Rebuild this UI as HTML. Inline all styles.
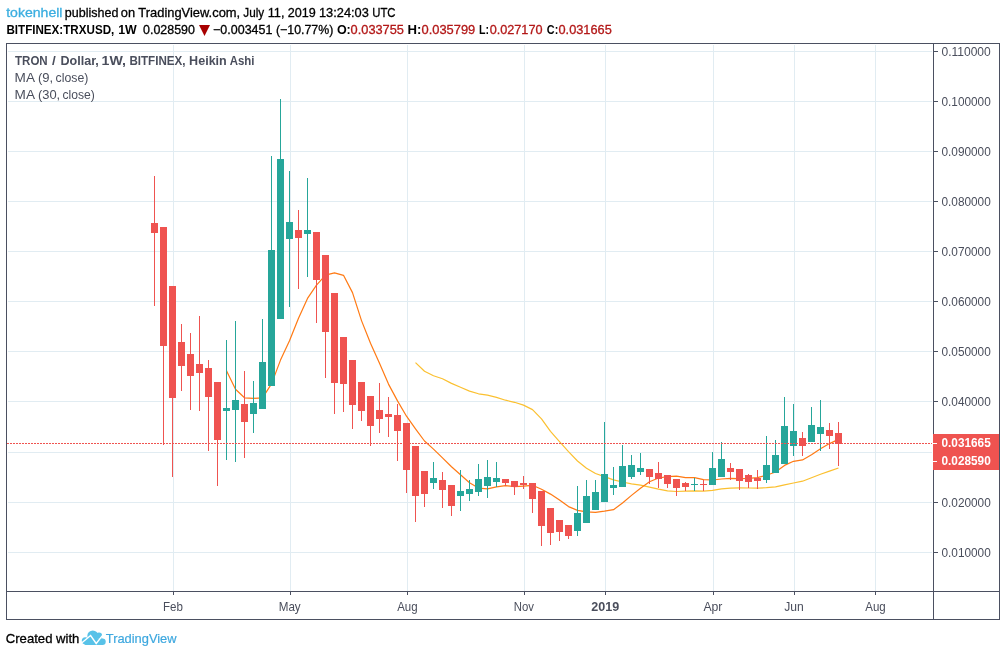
<!DOCTYPE html>
<html lang="en"><head><meta charset="utf-8"><title>TRXUSD chart</title>
<style>html,body{margin:0;padding:0;background:#fff}svg{display:block}text{font-family:"Liberation Sans",sans-serif}</style></head><body>
<svg width="1006" height="656" viewBox="0 0 1006 656">
<rect width="1006" height="656" fill="#fff"/>
<g shape-rendering="crispEdges" fill="#e1ecf2">
<rect x="8" y="51" width="924" height="1"/>
<rect x="8" y="101" width="924" height="1"/>
<rect x="8" y="151" width="924" height="1"/>
<rect x="8" y="201" width="924" height="1"/>
<rect x="8" y="251" width="924" height="1"/>
<rect x="8" y="301" width="924" height="1"/>
<rect x="8" y="351" width="924" height="1"/>
<rect x="8" y="401" width="924" height="1"/>
<rect x="8" y="452" width="924" height="1"/>
<rect x="8" y="502" width="924" height="1"/>
<rect x="8" y="552" width="924" height="1"/>
<rect x="173" y="45" width="1" height="546"/>
<rect x="290" y="45" width="1" height="546"/>
<rect x="407" y="45" width="1" height="546"/>
<rect x="524" y="45" width="1" height="546"/>
<rect x="605" y="45" width="1" height="546"/>
<rect x="713" y="45" width="1" height="546"/>
<rect x="794" y="45" width="1" height="546"/>
<rect x="875" y="45" width="1" height="546"/>
</g>
<polyline points="415.5,362.6 424.5,371.3 433.5,375.7 442.5,378.7 451.5,383.4 460.5,387.2 469.5,391.1 478.5,393.8 487.5,395.1 496.5,397.4 505.5,400.2 514.5,402.3 523.5,405.1 532.5,409.6 541.5,418.8 550.5,431.3 559.5,441.6 568.5,451.6 577.5,461.0 586.5,468.2 595.5,473.5 604.5,476.6 613.5,479.9 622.5,482.0 631.5,483.8 640.5,485.2 649.5,487.1 658.5,489.2 667.5,490.9 676.5,491.5 685.5,491.2 694.5,490.9 703.5,491.1 712.5,490.4 721.5,488.8 730.5,488.2 739.5,487.9 748.5,488.0 757.5,488.2 766.5,487.7 775.5,486.8 784.5,484.8 793.5,483.0 802.5,481.2 811.5,477.8 820.5,474.3 829.5,471.1 838.5,468.0" fill="none" stroke="#fbc030" stroke-width="1.2" stroke-linejoin="round"/>
<polyline points="226.5,370.8 235.5,389.3 244.5,397.8 253.5,398.3 262.5,397.9 271.5,383.9 280.5,360.1 289.5,340.7 298.5,318.2 307.5,298.4 316.5,285.1 325.5,275.1 334.5,272.9 343.5,275.3 352.5,292.6 361.5,320.6 370.5,343.2 379.5,363.3 388.5,384.1 397.5,400.9 406.5,416.2 415.5,428.8 424.5,441.0 433.5,449.1 442.5,457.9 451.5,466.8 460.5,474.8 469.5,482.8 478.5,488.1 487.5,488.9 496.5,486.9 505.5,485.7 514.5,486.7 523.5,486.1 532.5,485.3 541.5,489.2 550.5,494.1 559.5,500.0 568.5,506.6 577.5,510.4 586.5,511.9 595.5,512.4 604.5,511.2 613.5,509.7 622.5,503.0 631.5,495.4 640.5,488.3 649.5,481.8 658.5,478.0 667.5,476.7 676.5,476.2 685.5,477.7 694.5,477.6 703.5,479.7 712.5,480.0 721.5,479.0 730.5,478.4 739.5,478.7 748.5,478.4 757.5,477.7 766.5,475.2 775.5,472.0 784.5,465.4 793.5,461.3 802.5,459.9 811.5,454.7 820.5,448.7 829.5,443.6 838.5,439.4" fill="none" stroke="#ff7a14" stroke-width="1.2" stroke-linejoin="round"/>
<g shape-rendering="crispEdges">
<rect x="154" y="176" width="1" height="130" fill="#ef5350"/><rect x="151" y="223" width="7" height="10" fill="#ef5350"/>
<rect x="163" y="227" width="1" height="218" fill="#ef5350"/><rect x="160" y="227" width="7" height="119" fill="#ef5350"/>
<rect x="172" y="286" width="1" height="191" fill="#ef5350"/><rect x="169" y="286" width="7" height="112" fill="#ef5350"/>
<rect x="181" y="324" width="1" height="67" fill="#ef5350"/><rect x="178" y="342" width="7" height="24" fill="#ef5350"/>
<rect x="190" y="333" width="1" height="77" fill="#ef5350"/><rect x="187" y="354" width="7" height="22" fill="#ef5350"/>
<rect x="199" y="316" width="1" height="95" fill="#ef5350"/><rect x="196" y="364" width="7" height="9" fill="#ef5350"/>
<rect x="208" y="360" width="1" height="91" fill="#ef5350"/><rect x="205" y="368" width="7" height="29" fill="#ef5350"/>
<rect x="217" y="382" width="1" height="104" fill="#ef5350"/><rect x="214" y="382" width="7" height="58" fill="#ef5350"/>
<rect x="226" y="340" width="1" height="120" fill="#26a69a"/><rect x="223" y="408" width="7" height="3" fill="#26a69a"/>
<rect x="235" y="321" width="1" height="141" fill="#26a69a"/><rect x="232" y="400" width="7" height="10" fill="#26a69a"/>
<rect x="244" y="371" width="1" height="87" fill="#ef5350"/><rect x="241" y="404" width="7" height="18" fill="#ef5350"/>
<rect x="253" y="381" width="1" height="52" fill="#26a69a"/><rect x="250" y="403" width="7" height="11" fill="#26a69a"/>
<rect x="262" y="319" width="1" height="90" fill="#26a69a"/><rect x="259" y="362" width="7" height="47" fill="#26a69a"/>
<rect x="271" y="156" width="1" height="230" fill="#26a69a"/><rect x="268" y="250" width="7" height="136" fill="#26a69a"/>
<rect x="280" y="99" width="1" height="220" fill="#26a69a"/><rect x="277" y="159" width="7" height="160" fill="#26a69a"/>
<rect x="289" y="171" width="1" height="136" fill="#26a69a"/><rect x="286" y="222" width="7" height="17" fill="#26a69a"/>
<rect x="298" y="210" width="1" height="79" fill="#ef5350"/><rect x="295" y="230" width="7" height="8" fill="#ef5350"/>
<rect x="307" y="178" width="1" height="99" fill="#26a69a"/><rect x="304" y="230" width="7" height="4" fill="#26a69a"/>
<rect x="316" y="232" width="1" height="91" fill="#ef5350"/><rect x="313" y="232" width="7" height="48" fill="#ef5350"/>
<rect x="325" y="255" width="1" height="123" fill="#ef5350"/><rect x="322" y="255" width="7" height="77" fill="#ef5350"/>
<rect x="334" y="293" width="1" height="121" fill="#ef5350"/><rect x="331" y="293" width="7" height="90" fill="#ef5350"/>
<rect x="343" y="337" width="1" height="75" fill="#ef5350"/><rect x="340" y="337" width="7" height="47" fill="#ef5350"/>
<rect x="352" y="360" width="1" height="69" fill="#ef5350"/><rect x="349" y="360" width="7" height="45" fill="#ef5350"/>
<rect x="361" y="382" width="1" height="39" fill="#ef5350"/><rect x="358" y="382" width="7" height="29" fill="#ef5350"/>
<rect x="370" y="396" width="1" height="50" fill="#ef5350"/><rect x="367" y="396" width="7" height="30" fill="#ef5350"/>
<rect x="379" y="383" width="1" height="50" fill="#ef5350"/><rect x="376" y="410" width="7" height="9" fill="#ef5350"/>
<rect x="388" y="397" width="1" height="40" fill="#ef5350"/><rect x="385" y="414" width="7" height="3" fill="#ef5350"/>
<rect x="397" y="404" width="1" height="57" fill="#ef5350"/><rect x="394" y="415" width="7" height="16" fill="#ef5350"/>
<rect x="406" y="423" width="1" height="70" fill="#ef5350"/><rect x="403" y="423" width="7" height="47" fill="#ef5350"/>
<rect x="415" y="446" width="1" height="76" fill="#ef5350"/><rect x="412" y="446" width="7" height="50" fill="#ef5350"/>
<rect x="424" y="471" width="1" height="36" fill="#ef5350"/><rect x="421" y="471" width="7" height="23" fill="#ef5350"/>
<rect x="433" y="462" width="1" height="27" fill="#26a69a"/><rect x="430" y="478" width="7" height="5" fill="#26a69a"/>
<rect x="442" y="472" width="1" height="36" fill="#ef5350"/><rect x="439" y="480" width="7" height="10" fill="#ef5350"/>
<rect x="451" y="485" width="1" height="31" fill="#ef5350"/><rect x="448" y="485" width="7" height="21" fill="#ef5350"/>
<rect x="460" y="470" width="1" height="41" fill="#26a69a"/><rect x="457" y="491" width="7" height="5" fill="#26a69a"/>
<rect x="469" y="480" width="1" height="21" fill="#26a69a"/><rect x="466" y="489" width="7" height="5" fill="#26a69a"/>
<rect x="478" y="464" width="1" height="32" fill="#26a69a"/><rect x="475" y="479" width="7" height="13" fill="#26a69a"/>
<rect x="487" y="460" width="1" height="38" fill="#26a69a"/><rect x="484" y="477" width="7" height="9" fill="#26a69a"/>
<rect x="496" y="462" width="1" height="25" fill="#26a69a"/><rect x="493" y="478" width="7" height="4" fill="#26a69a"/>
<rect x="505" y="479" width="1" height="7" fill="#ef5350"/><rect x="502" y="479" width="7" height="4" fill="#ef5350"/>
<rect x="514" y="481" width="1" height="14" fill="#ef5350"/><rect x="511" y="481" width="7" height="6" fill="#ef5350"/>
<rect x="523" y="476" width="1" height="13" fill="#ef5350"/><rect x="520" y="483" width="7" height="2" fill="#ef5350"/>
<rect x="532" y="483" width="1" height="30" fill="#ef5350"/><rect x="529" y="483" width="7" height="16" fill="#ef5350"/>
<rect x="541" y="491" width="1" height="55" fill="#ef5350"/><rect x="538" y="491" width="7" height="35" fill="#ef5350"/>
<rect x="550" y="508" width="1" height="37" fill="#ef5350"/><rect x="547" y="508" width="7" height="25" fill="#ef5350"/>
<rect x="559" y="520" width="1" height="21" fill="#ef5350"/><rect x="556" y="520" width="7" height="12" fill="#ef5350"/>
<rect x="568" y="525" width="1" height="14" fill="#ef5350"/><rect x="565" y="525" width="7" height="11" fill="#ef5350"/>
<rect x="577" y="486" width="1" height="50" fill="#26a69a"/><rect x="574" y="513" width="7" height="18" fill="#26a69a"/>
<rect x="586" y="480" width="1" height="43" fill="#26a69a"/><rect x="583" y="496" width="7" height="27" fill="#26a69a"/>
<rect x="595" y="480" width="1" height="30" fill="#26a69a"/><rect x="592" y="492" width="7" height="18" fill="#26a69a"/>
<rect x="604" y="422" width="1" height="80" fill="#26a69a"/><rect x="601" y="474" width="7" height="28" fill="#26a69a"/>
<rect x="613" y="467" width="1" height="28" fill="#26a69a"/><rect x="610" y="485" width="7" height="3" fill="#26a69a"/>
<rect x="622" y="445" width="1" height="42" fill="#26a69a"/><rect x="619" y="466" width="7" height="21" fill="#26a69a"/>
<rect x="631" y="455" width="1" height="24" fill="#26a69a"/><rect x="628" y="465" width="7" height="12" fill="#26a69a"/>
<rect x="640" y="453" width="1" height="22" fill="#26a69a"/><rect x="637" y="468" width="7" height="4" fill="#26a69a"/>
<rect x="649" y="469" width="1" height="15" fill="#ef5350"/><rect x="646" y="469" width="7" height="8" fill="#ef5350"/>
<rect x="658" y="462" width="1" height="26" fill="#ef5350"/><rect x="655" y="473" width="7" height="6" fill="#ef5350"/>
<rect x="667" y="475" width="1" height="13" fill="#ef5350"/><rect x="664" y="475" width="7" height="9" fill="#ef5350"/>
<rect x="676" y="479" width="1" height="17" fill="#ef5350"/><rect x="673" y="479" width="7" height="9" fill="#ef5350"/>
<rect x="685" y="482" width="1" height="9" fill="#ef5350"/><rect x="682" y="483" width="7" height="4" fill="#ef5350"/>
<rect x="694" y="478" width="1" height="13" fill="#26a69a"/><rect x="691" y="484" width="7" height="1" fill="#26a69a"/>
<rect x="703" y="480" width="1" height="11" fill="#ef5350"/><rect x="700" y="484" width="7" height="1" fill="#ef5350"/>
<rect x="712" y="452" width="1" height="33" fill="#26a69a"/><rect x="709" y="468" width="7" height="17" fill="#26a69a"/>
<rect x="721" y="442" width="1" height="35" fill="#26a69a"/><rect x="718" y="459" width="7" height="18" fill="#26a69a"/>
<rect x="730" y="463" width="1" height="17" fill="#ef5350"/><rect x="727" y="468" width="7" height="4" fill="#ef5350"/>
<rect x="739" y="469" width="1" height="21" fill="#ef5350"/><rect x="736" y="469" width="7" height="12" fill="#ef5350"/>
<rect x="748" y="474" width="1" height="14" fill="#ef5350"/><rect x="745" y="475" width="7" height="7" fill="#ef5350"/>
<rect x="757" y="470" width="1" height="19" fill="#ef5350"/><rect x="754" y="478" width="7" height="3" fill="#ef5350"/>
<rect x="766" y="436" width="1" height="47" fill="#26a69a"/><rect x="763" y="465" width="7" height="15" fill="#26a69a"/>
<rect x="775" y="440" width="1" height="33" fill="#26a69a"/><rect x="772" y="455" width="7" height="18" fill="#26a69a"/>
<rect x="784" y="397" width="1" height="67" fill="#26a69a"/><rect x="781" y="426" width="7" height="38" fill="#26a69a"/>
<rect x="793" y="404" width="1" height="52" fill="#26a69a"/><rect x="790" y="431" width="7" height="15" fill="#26a69a"/>
<rect x="802" y="432" width="1" height="24" fill="#ef5350"/><rect x="799" y="438" width="7" height="8" fill="#ef5350"/>
<rect x="811" y="407" width="1" height="35" fill="#26a69a"/><rect x="808" y="425" width="7" height="17" fill="#26a69a"/>
<rect x="820" y="400" width="1" height="51" fill="#26a69a"/><rect x="817" y="427" width="7" height="7" fill="#26a69a"/>
<rect x="829" y="423" width="1" height="26" fill="#ef5350"/><rect x="826" y="430" width="7" height="6" fill="#ef5350"/>
<rect x="838" y="422" width="1" height="44" fill="#ef5350"/><rect x="835" y="433" width="7" height="11" fill="#ef5350"/>
</g>
<line x1="7" x2="932" y1="443.5" y2="443.5" stroke="#ef5350" stroke-width="1" stroke-dasharray="2 1" shape-rendering="crispEdges"/>
<g shape-rendering="crispEdges" fill="#4b5061">
<rect x="6" y="43" width="994" height="1"/>
<rect x="6" y="43" width="1" height="577"/>
<rect x="999" y="43" width="1" height="577"/>
<rect x="6" y="619" width="994" height="1"/>
<rect x="933" y="43" width="1" height="577"/>
<rect x="6" y="591" width="994" height="1"/>
<rect x="934" y="51" width="4" height="1"/>
<rect x="934" y="101" width="4" height="1"/>
<rect x="934" y="151" width="4" height="1"/>
<rect x="934" y="201" width="4" height="1"/>
<rect x="934" y="251" width="4" height="1"/>
<rect x="934" y="301" width="4" height="1"/>
<rect x="934" y="351" width="4" height="1"/>
<rect x="934" y="401" width="4" height="1"/>
<rect x="934" y="452" width="4" height="1"/>
<rect x="934" y="502" width="4" height="1"/>
<rect x="934" y="552" width="4" height="1"/>
<rect x="173" y="592" width="1" height="3"/>
<rect x="290" y="592" width="1" height="3"/>
<rect x="407" y="592" width="1" height="3"/>
<rect x="524" y="592" width="1" height="3"/>
<rect x="605" y="592" width="1" height="3"/>
<rect x="713" y="592" width="1" height="3"/>
<rect x="794" y="592" width="1" height="3"/>
<rect x="875" y="592" width="1" height="3"/>
</g>
<text x="941.47" y="55.8" font-size="12" fill="#4a4e5c" textLength="49.29" lengthAdjust="spacingAndGlyphs">0.110000</text>
<text x="941.47" y="105.8" font-size="12" fill="#4a4e5c" textLength="49.29" lengthAdjust="spacingAndGlyphs">0.100000</text>
<text x="941.47" y="155.8" font-size="12" fill="#4a4e5c" textLength="49.29" lengthAdjust="spacingAndGlyphs">0.090000</text>
<text x="941.47" y="205.8" font-size="12" fill="#4a4e5c" textLength="49.29" lengthAdjust="spacingAndGlyphs">0.080000</text>
<text x="941.47" y="255.8" font-size="12" fill="#4a4e5c" textLength="49.29" lengthAdjust="spacingAndGlyphs">0.070000</text>
<text x="941.47" y="305.8" font-size="12" fill="#4a4e5c" textLength="49.29" lengthAdjust="spacingAndGlyphs">0.060000</text>
<text x="941.47" y="355.8" font-size="12" fill="#4a4e5c" textLength="49.29" lengthAdjust="spacingAndGlyphs">0.050000</text>
<text x="941.47" y="405.8" font-size="12" fill="#4a4e5c" textLength="49.29" lengthAdjust="spacingAndGlyphs">0.040000</text>
<text x="941.47" y="456.8" font-size="12" fill="#4a4e5c" textLength="49.29" lengthAdjust="spacingAndGlyphs">0.030000</text>
<text x="941.47" y="506.8" font-size="12" fill="#4a4e5c" textLength="49.29" lengthAdjust="spacingAndGlyphs">0.020000</text>
<text x="941.47" y="556.8" font-size="12" fill="#4a4e5c" textLength="49.29" lengthAdjust="spacingAndGlyphs">0.010000</text>
<rect x="933" y="434" width="66" height="36" fill="#ef5350" shape-rendering="crispEdges"/>
<g shape-rendering="crispEdges" fill="#fff"><rect x="933" y="443" width="4" height="1"/><rect x="933" y="461" width="4" height="1"/></g>
<text x="941.50" y="446.9" font-size="12" font-weight="bold" fill="#fff" textLength="49.20" lengthAdjust="spacingAndGlyphs">0.031665</text>
<text x="941.50" y="465.1" font-size="12" font-weight="bold" fill="#fff" textLength="49.20" lengthAdjust="spacingAndGlyphs">0.028590</text>
<text x="162.95" y="611" font-size="12.4" fill="#4a4e5c" textLength="19.93" lengthAdjust="spacingAndGlyphs">Feb</text>
<text x="278.72" y="611" font-size="12.4" fill="#4a4e5c" textLength="21.98" lengthAdjust="spacingAndGlyphs">May</text>
<text x="397.17" y="611" font-size="12.4" fill="#4a4e5c" textLength="20.43" lengthAdjust="spacingAndGlyphs">Aug</text>
<text x="513.82" y="611" font-size="12.4" fill="#4a4e5c" textLength="20.19" lengthAdjust="spacingAndGlyphs">Nov</text>
<text x="591.22" y="611" font-size="12.4" font-weight="bold" fill="#4a4e5c" textLength="27.89" lengthAdjust="spacingAndGlyphs">2019</text>
<text x="703.39" y="611" font-size="12.4" fill="#4a4e5c" textLength="19.05" lengthAdjust="spacingAndGlyphs">Apr</text>
<text x="784.23" y="611" font-size="12.4" fill="#4a4e5c" textLength="19.54" lengthAdjust="spacingAndGlyphs">Jun</text>
<text x="865.28" y="611" font-size="12.4" fill="#4a4e5c" textLength="20.43" lengthAdjust="spacingAndGlyphs">Aug</text>
<text y="64.5"><tspan x="15.03" font-size="12.5" font-weight="bold" fill="#4a4e5c" textLength="32.70" lengthAdjust="spacingAndGlyphs">TRON</tspan> <tspan x="52.0" font-size="13.5" font-weight="bold" fill="#4a4e5c">/</tspan> <tspan x="60.43" font-size="12.5" font-weight="bold" fill="#4a4e5c" textLength="38.44" lengthAdjust="spacingAndGlyphs">Dollar,</tspan> <tspan x="101.52" font-size="12.5" font-weight="bold" fill="#4a4e5c" textLength="24.37" lengthAdjust="spacingAndGlyphs">1W,</tspan> <tspan x="129.42" font-size="12.5" font-weight="bold" fill="#4a4e5c" textLength="56.10" lengthAdjust="spacingAndGlyphs">BITFINEX,</tspan> <tspan x="189.12" font-size="12.5" font-weight="bold" fill="#4a4e5c" textLength="37.66" lengthAdjust="spacingAndGlyphs">Heikin</tspan> <tspan x="229.77" font-size="12.5" font-weight="bold" fill="#4a4e5c" textLength="24.76" lengthAdjust="spacingAndGlyphs">Ashi</tspan></text>
<text y="81.6"><tspan x="14.60" font-size="12" fill="#4a4e5c" textLength="20.36" lengthAdjust="spacingAndGlyphs">MA</tspan> <tspan x="37.90" font-size="12" fill="#4a4e5c" textLength="15.22" lengthAdjust="spacingAndGlyphs">(9,</tspan> <tspan x="55.56" font-size="12" fill="#4a4e5c" textLength="32.76" lengthAdjust="spacingAndGlyphs">close)</tspan></text>
<text y="98.8"><tspan x="14.60" font-size="12" fill="#4a4e5c" textLength="20.36" lengthAdjust="spacingAndGlyphs">MA</tspan> <tspan x="37.96" font-size="12" fill="#4a4e5c" textLength="22.27" lengthAdjust="spacingAndGlyphs">(30,</tspan> <tspan x="62.47" font-size="12" fill="#4a4e5c" textLength="32.39" lengthAdjust="spacingAndGlyphs">close)</tspan></text>
<text y="16.7"><tspan x="6.19" font-size="13" fill="#3baee0" textLength="56.32" lengthAdjust="spacingAndGlyphs" stroke="#3baee0" stroke-width="0.3">tokenhell</tspan> <tspan x="64.86" font-size="13" fill="#000" textLength="53.54" lengthAdjust="spacingAndGlyphs" stroke="#000" stroke-width="0.3">published</tspan> <tspan x="120.79" font-size="13" fill="#000" textLength="14.29" lengthAdjust="spacingAndGlyphs" stroke="#000" stroke-width="0.3">on</tspan> <tspan x="138.33" font-size="13" fill="#000" textLength="101.83" lengthAdjust="spacingAndGlyphs" stroke="#000" stroke-width="0.3">TradingView.com,</tspan> <tspan x="243.32" font-size="13" fill="#000" textLength="20.90" lengthAdjust="spacingAndGlyphs" stroke="#000" stroke-width="0.3">July</tspan> <tspan x="267.70" font-size="13" fill="#000" textLength="16.79" lengthAdjust="spacingAndGlyphs" stroke="#000" stroke-width="0.3">11,</tspan> <tspan x="287.77" font-size="13" fill="#000" textLength="27.98" lengthAdjust="spacingAndGlyphs" stroke="#000" stroke-width="0.3">2019</tspan> <tspan x="318.93" font-size="13" fill="#000" textLength="49.94" lengthAdjust="spacingAndGlyphs" stroke="#000" stroke-width="0.3">13:24:03</tspan> <tspan x="372.24" font-size="13" fill="#000" textLength="23.30" lengthAdjust="spacingAndGlyphs" stroke="#000" stroke-width="0.3">UTC</tspan></text>
<text y="34.3"><tspan x="6.41" font-size="12.5" font-weight="bold" fill="#000" textLength="107.86" lengthAdjust="spacingAndGlyphs">BITFINEX:TRXUSD,</tspan> <tspan x="118.18" font-size="12.5" font-weight="bold" fill="#000" textLength="18.56" lengthAdjust="spacingAndGlyphs">1W</tspan> <tspan x="143.07" font-size="12.5" fill="#000" textLength="51.86" lengthAdjust="spacingAndGlyphs" stroke="#000" stroke-width="0.3">0.028590</tspan> <tspan x="213.08" font-size="12.5" fill="#000" textLength="59.29" lengthAdjust="spacingAndGlyphs" stroke="#000" stroke-width="0.3">−0.003451</tspan> <tspan x="275.96" font-size="12.5" fill="#000" textLength="57.30" lengthAdjust="spacingAndGlyphs" stroke="#000" stroke-width="0.3">(−10.77%)</tspan> <tspan x="336.89" font-size="12.5" font-weight="bold" fill="#000" textLength="13.89" lengthAdjust="spacingAndGlyphs">O:</tspan><tspan x="350.63" font-size="12.5" fill="#b31818" textLength="53.31" lengthAdjust="spacingAndGlyphs" stroke="#b31818" stroke-width="0.3">0.033755</tspan> <tspan x="407.64" font-size="12.5" font-weight="bold" fill="#000" textLength="13.89" lengthAdjust="spacingAndGlyphs">H:</tspan><tspan x="421.50" font-size="12.5" fill="#b31818" textLength="53.76" lengthAdjust="spacingAndGlyphs" stroke="#b31818" stroke-width="0.3">0.035799</tspan> <tspan x="479.08" font-size="12.5" font-weight="bold" fill="#000" textLength="10.06" lengthAdjust="spacingAndGlyphs">L:</tspan><tspan x="489.65" font-size="12.5" fill="#b31818" textLength="52.85" lengthAdjust="spacingAndGlyphs" stroke="#b31818" stroke-width="0.3">0.027170</tspan> <tspan x="546.84" font-size="12.5" font-weight="bold" fill="#000" textLength="11.42" lengthAdjust="spacingAndGlyphs">C:</tspan><tspan x="558.50" font-size="12.5" fill="#b31818" textLength="53.23" lengthAdjust="spacingAndGlyphs" stroke="#b31818" stroke-width="0.3">0.031665</tspan></text>
<polygon points="199,25 210,25 204.5,36" fill="#a80000"/>
<text x="5.80" y="642.6" font-size="13" fill="#000" textLength="73.57" lengthAdjust="spacingAndGlyphs" stroke="#000" stroke-width="0.3">Created with</text>
<g fill="#58c2e8">
<circle cx="85.3" cy="640.7" r="3.5"/><circle cx="92.8" cy="636.0" r="5.5"/><circle cx="99.0" cy="635.7" r="3.1"/><circle cx="102.4" cy="641.7" r="3.3"/>
<rect x="84.2" y="638.5" width="19.2" height="6.6" rx="1.6"/>
</g>
<polyline points="81.6,643.0 90.6,635.5 96.2,643.5 104.0,633.6" fill="none" stroke="#fff" stroke-width="1.35" stroke-linejoin="miter"/>
<text x="105.77" y="642.6" font-size="13" fill="#3ea8df" textLength="70.79" lengthAdjust="spacingAndGlyphs" stroke="#3ea8df" stroke-width="0.2">TradingView</text>
</svg></body></html>
